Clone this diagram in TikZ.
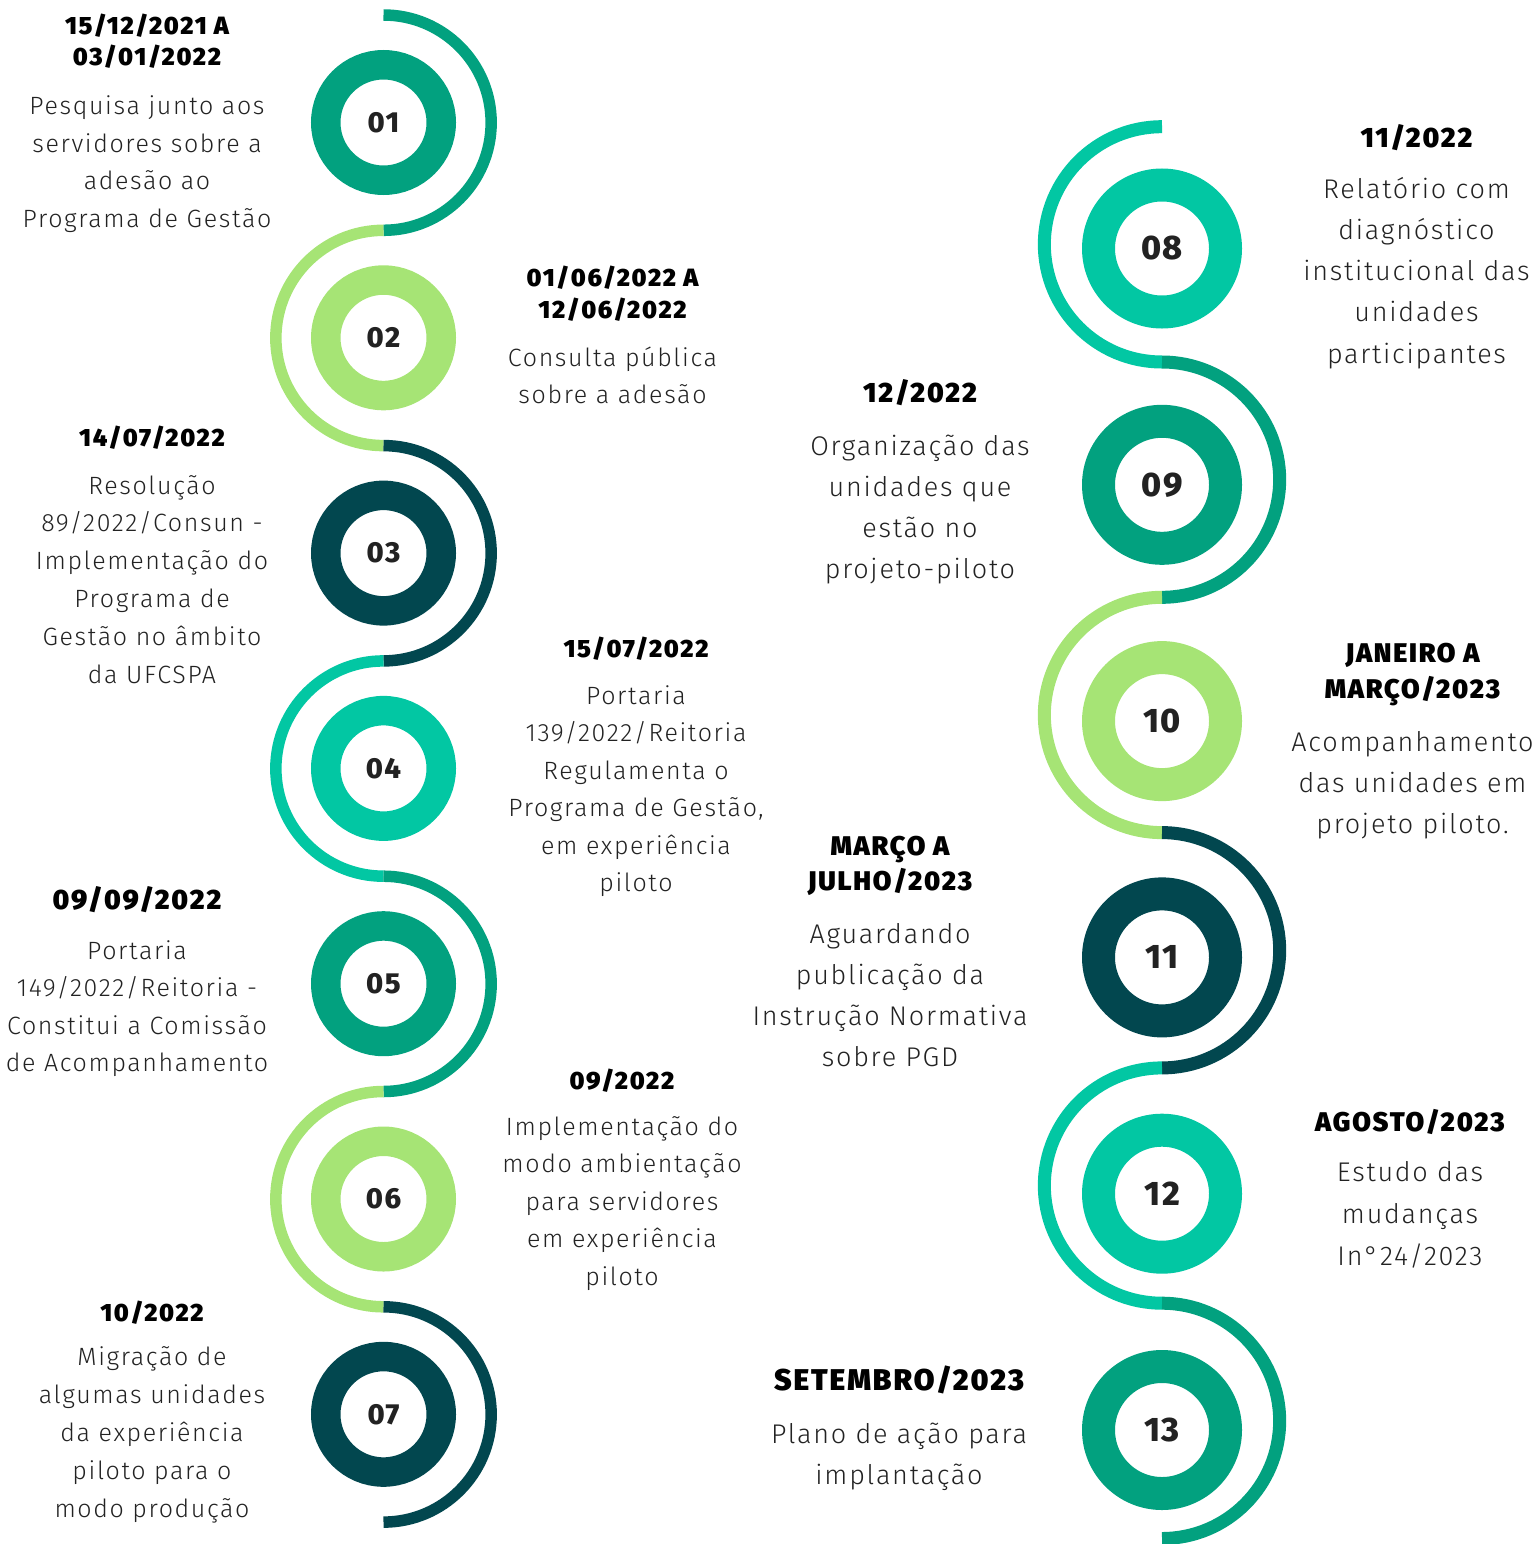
\documentclass[tikz,border=0pt]{standalone}
\usepackage{fontspec}
\setmainfont{Fira Sans}
\newfontfamily\bodyfont{Fira Sans Light}[LetterSpace=6.5]
\newfontfamily\headfont{Fira Sans Black}[LetterSpace=6.5]
\newfontfamily\numfont{Fira Sans ExtraBold}[LetterSpace=5]
\definecolor{cgreen}{HTML}{02A17F}
\definecolor{clight}{HTML}{A6E475}
\definecolor{cdark}{HTML}{02474F}
\definecolor{cteal}{HTML}{02C7A3}
\definecolor{ctext}{HTML}{222222}
\newcommand\blines[6]{%
  \foreach \txt [count=\i from 0] in {#6} {\node[#5] (#1-\i) at (#2, {#3+#4*\i}) {\txt};}}
\tikzset{
  ringL/.style={circle, draw=#1, line width=29.5pt, minimum size=115.5pt, inner sep=0pt,
    text=ctext, font=\numfont\fontsize{29}{29}\selectfont},
  ringR/.style={circle, draw=#1, line width=33pt, minimum size=127pt, inner sep=0pt,
    text=ctext, font=\numfont\fontsize{34}{34}\selectfont},
  arcL/.style={draw=#1, line width=11.5pt},
  arcR/.style={draw=#1, line width=13pt},
  hd/.style={anchor=base, inner sep=0pt, text=black, font=\headfont\fontsize{#1}{#1}\selectfont},
  bodyL/.style={anchor=base, inner sep=0pt, text=ctext, font=\bodyfont\fontsize{25}{30}\selectfont},
  bodyR/.style={anchor=base, inner sep=0pt, text=ctext, font=\bodyfont\fontsize{27}{32}\selectfont},
}
\begin{document}
\begin{tikzpicture}[x=1pt,y=-1pt]
\useasboundingbox (0,0) rectangle (1537,1544);
\clip (0,0) rectangle (1537,1544);
% ---------- left column junctions and arcs ----------
\foreach \k in {0,...,7} {\coordinate (jL\k) at (383.5, {15+215.3*\k});}
\draw[arcL=cgreen] (jL0) arc[start angle=90, end angle=-90, radius=107.65pt];
\draw[arcL=clight] (jL1) arc[start angle=90, end angle=270, radius=107.65pt];
\draw[arcL=cdark]  (jL2) arc[start angle=90, end angle=-90, radius=107.65pt];
\draw[arcL=cteal]  (jL3) arc[start angle=90, end angle=270, radius=107.65pt];
\draw[arcL=cgreen] (jL4) arc[start angle=90, end angle=-90, radius=107.65pt];
\draw[arcL=clight] (jL5) arc[start angle=90, end angle=270, radius=107.65pt];
\draw[arcL=cdark]  (jL6) arc[start angle=90, end angle=-90, radius=107.65pt];
% ---------- right column junctions and arcs ----------
\foreach \k in {0,...,6} {\coordinate (jR\k) at (1162, {126.7+235.3*\k});}
\draw[arcR=cteal]  (jR0) arc[start angle=90, end angle=270, radius=117.65pt];
\draw[arcR=cgreen] (jR1) arc[start angle=90, end angle=-90, radius=117.65pt];
\draw[arcR=clight] (jR2) arc[start angle=90, end angle=270, radius=117.65pt];
\draw[arcR=cdark]  (jR3) arc[start angle=90, end angle=-90, radius=117.65pt];
\draw[arcR=cteal]  (jR4) arc[start angle=90, end angle=270, radius=117.65pt];
\draw[arcR=cgreen] (jR5) arc[start angle=90, end angle=-90, radius=117.65pt];
% ---------- rings ----------
\node[ringL=cgreen] (n01) at (383.5,122.5) {01};
\node[ringL=clight] (n02) at (383.5,337.8) {02};
\node[ringL=cdark]  (n03) at (383.5,553.1) {03};
\node[ringL=cteal]  (n04) at (383.5,768.4) {04};
\node[ringL=cgreen] (n05) at (383.5,983.7) {05};
\node[ringL=clight] (n06) at (383.5,1199) {06};
\node[ringL=cdark]  (n07) at (383.5,1414.3) {07};
\node[ringR=cteal]  (n08) at (1162,248.5) {08};
\node[ringR=cgreen] (n09) at (1162,484.8) {09};
\node[ringR=clight] (n10) at (1162,721.1) {10};
\node[ringR=cdark]  (n11) at (1162,957.4) {11};
\node[ringR=cteal]  (n12) at (1162,1193.7) {12};
\node[ringR=cgreen] (n13) at (1162,1430) {13};
% ---------- texts ----------
% 1
\node[hd=25] (h1a) at (147,34.3) {15/12/2021 A};
\node[hd=25] (h1b) at (147,66) {03/01/2022};
\blines{b1}{147}{114.3}{37.7}{bodyL}{Pesquisa junto aos, servidores sobre a, adesão ao, Programa de Gestão}
% 2
\node[hd=25] (h2a) at (612.5,286) {01/06/2022 A};
\node[hd=25] (h2b) at (612.5,318) {12/06/2022};
\blines{b2}{612.5}{366}{37.7}{bodyL}{Consulta pública, sobre a adesão}
% 3
\node[hd=25] (h3) at (152,446.7) {14/07/2022};
\blines{b3}{152}{494}{37.9}{bodyL}{Resolução, 89/2022/Consun -, Implementação do, Programa de, Gestão no âmbito, da UFCSPA}
% 4
\node[hd=25] (h4) at (636,657) {15/07/2022};
\blines{b4}{636}{704}{37.5}{bodyL}{Portaria, 139/2022/Reitoria, Regulamenta o, {Programa de Gestão,}, em experiência, piloto}
% 5
\node[hd=28] (h5) at (137,909.3) {09/09/2022};
\blines{b5}{137}{959}{37.6}{bodyL}{Portaria, 149/2022/Reitoria -, Constitui a Comissão, de Acompanhamento}
% 6
\node[hd=25] (h6) at (622,1089) {09/2022};
\blines{b6}{622}{1135}{37.5}{bodyL}{Implementação do, modo ambientação, para servidores, em experiência, piloto}
% 7
\node[hd=25] (h7) at (152,1321) {10/2022};
\blines{b7}{152}{1365}{38}{bodyL}{Migração de, algumas unidades, da experiência, piloto para o, modo produção}
% 8
\node[hd=28] (h8) at (1416.5,147) {11/2022};
\blines{b8}{1416.5}{198}{41.3}{bodyR}{Relatório com, diagnóstico, institucional das, unidades, participantes}
% 9
\node[hd=28] (h9) at (920,402.7) {12/2022};
\blines{b9}{920}{455}{41}{bodyR}{Organização das, unidades que, estão no, projeto-piloto}
% 10
\node[hd=27] (h10a) at (1412.5,662) {JANEIRO A};
\node[hd=27] (h10b) at (1412.5,698) {MARÇO/2023};
\blines{b10}{1412.5}{751}{41}{bodyR}{Acompanhamento, das unidades em, projeto piloto.}
% 11
\node[hd=27] (h11a) at (890,855) {MARÇO A};
\node[hd=27] (h11b) at (890,890) {JULHO/2023};
\blines{b11}{890}{943}{41.3}{bodyR}{Aguardando, publicação da, Instrução Normativa, sobre PGD}
% 12
\node[hd=27] (h12) at (1410,1131.7) {AGOSTO/2023};
\blines{b12}{1410}{1181.7}{41.7}{bodyR}{Estudo das, mudanças, In°24/2023}
% 13
\node[hd=30] (h13) at (899,1390) {SETEMBRO/2023};
\blines{b13}{899}{1443.3}{41}{bodyR}{Plano de ação para, implantação}
\end{tikzpicture}
\end{document}
